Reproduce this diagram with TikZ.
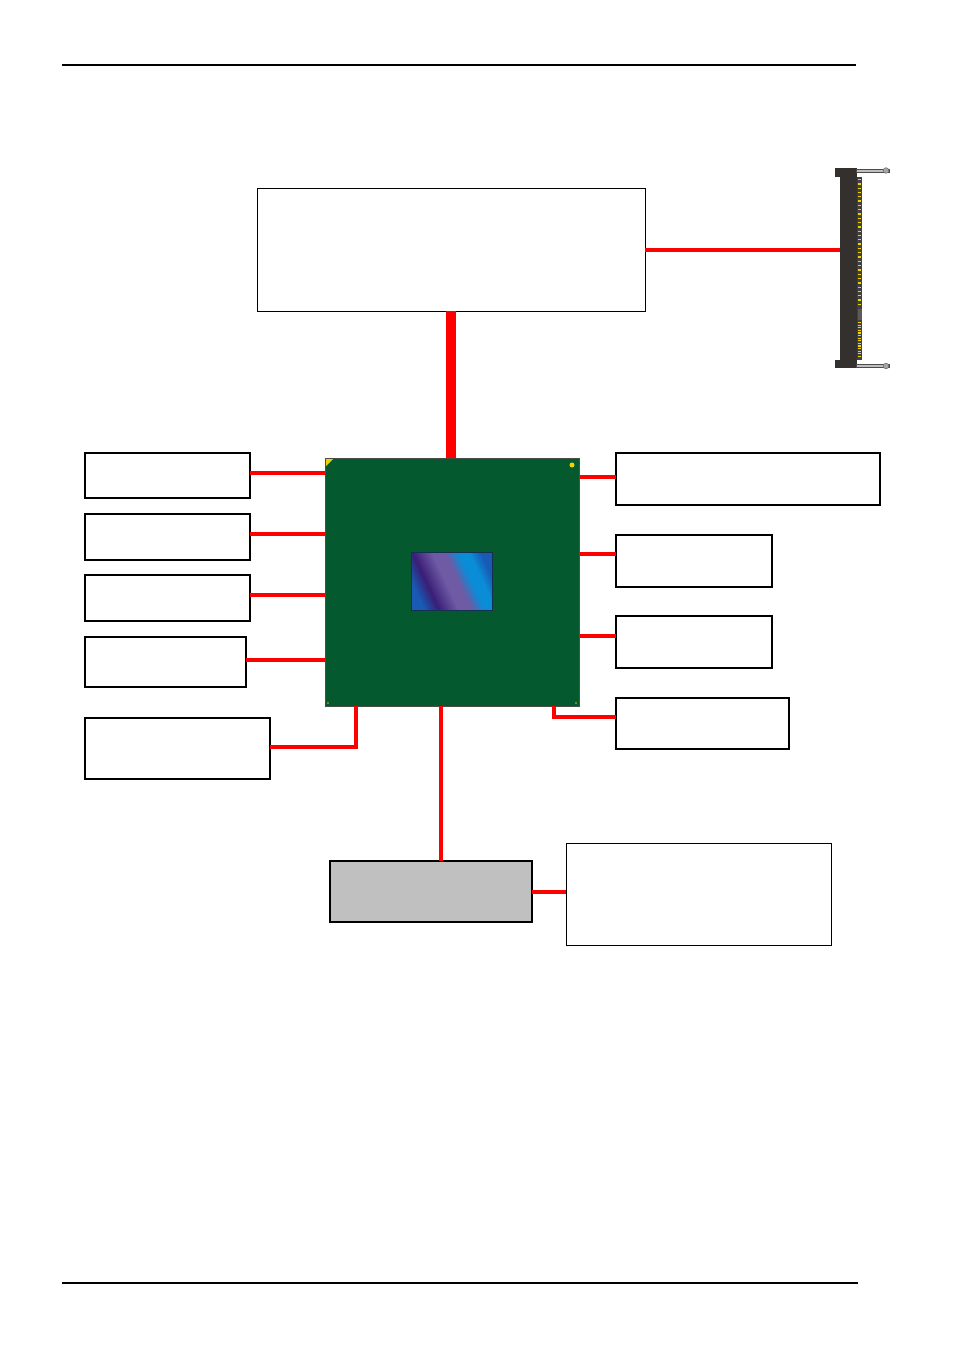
\documentclass[tikz,border=0pt]{standalone}
\usepackage{tikz}
\usetikzlibrary{positioning}
\definecolor{busred}{RGB}{255,0,0}
\definecolor{boardgreen}{RGB}{4,90,46}
\definecolor{boardedge}{RGB}{70,80,72}
\definecolor{slotgray}{RGB}{192,192,192}
\definecolor{slotdark}{RGB}{52,48,46}
\definecolor{slotstrip}{RGB}{66,64,62}
\definecolor{pinyellow}{RGB}{240,210,0}
\definecolor{dieblue}{RGB}{24,90,180}
\definecolor{diedark}{RGB}{58,30,118}
\definecolor{dielight}{RGB}{110,90,165}
\definecolor{diecyan}{RGB}{10,140,215}
\definecolor{dieedge}{RGB}{20,50,80}
\pgfdeclarehorizontalshading{diegrad}{100bp}{color(0bp)=(dieblue); color(25bp)=(dieblue); color(34bp)=(diedark); color(46bp)=(dielight); color(54bp)=(dielight); color(62bp)=(diecyan); color(69bp)=(diecyan); color(76bp)=(dieblue); color(100bp)=(dieblue)}

\begin{document}
\begin{tikzpicture}[x=1bp, y=-1bp,
        blk/.style={draw, line width=2bp, inner sep=0pt, outer sep=0pt},
        thinblk/.style={draw, line width=1bp, inner sep=0pt, outer sep=0pt},
        bus/.style={busred, line width=4bp},
        rule/.style={line width=2bp}]
        \useasboundingbox (0,0) rectangle (954,1352);
        % Page rules
        \draw[rule] (62,65) -- (856,65);
        \draw[rule] (62,1283) -- (858,1283);
        % Blocks
        \node[thinblk, minimum width=388bp, minimum height=122bp] (top) at (451,250) {};
        \node[blk, minimum width=165bp, minimum height=45bp] (lana) at (167.5,475.5) {};
        \node[blk, minimum width=165bp, minimum height=46bp] (lanb) at (167.5,537) {};
        \node[blk, minimum width=165bp, minimum height=46bp] (lanc) at (167.5,598) {};
        \node[blk, minimum width=161bp, minimum height=50bp] (land) at (165.5,662) {};
        \node[blk, minimum width=185bp, minimum height=61bp] (lane) at (177.5,748.5) {};
        \node[blk, minimum width=264bp, minimum height=52bp] (rana) at (748,479) {};
        \node[blk, minimum width=156bp, minimum height=52bp] (ranb) at (694,561) {};
        \node[blk, minimum width=156bp, minimum height=52bp] (ranc) at (694,642) {};
        \node[blk, minimum width=173bp, minimum height=51bp] (rand) at (702.5,723.5) {};
        \node[blk, line width=1.8bp, fill=slotgray, minimum width=202bp, minimum height=61bp] (sio) at (431,891.5) {};
        \node[thinblk, minimum width=265bp, minimum height=102bp] (bios) at (698.5,894) {};
        % Processor board
        \node[draw=boardedge, line width=1bp, fill=boardgreen, inner sep=0pt, outer sep=0pt,
              minimum width=254bp, minimum height=248bp] (chip) at (452,582) {};
        \node[shading=diegrad, shading angle=25, draw=dieedge, line width=1bp, inner sep=0pt,
              minimum width=81bp, minimum height=58bp] (die) at (451.5,581) {};
        \fill[pinyellow] (326,459) -- (333,459) -- (326,466) -- cycle;
        \fill[pinyellow] (572,465) circle (2.5);
        \fill[pinyellow!60!boardgreen] (328,703) circle (1.2);
        \fill[pinyellow!60!boardgreen] (576,703) circle (1.2);
        % Slot connector
        \node[fill=slotdark, inner sep=0pt, outer sep=0pt, minimum width=17bp, minimum height=200bp] (conn) at (848.5,268) {};
        \fill[slotdark] (835,168) rectangle (840,177);
        \fill[slotdark] (835,360) rectangle (840,368);
        \fill[slotstrip] (857,177) rectangle (862,360);
        \foreach \y in {179,183.3,...,305} \fill[pinyellow] (857.5,\y) rectangle (861,\y+1.3);
        \fill[slotdark!80!white] (857.5,309) rectangle (861.5,320);
        \foreach \y in {322,324.6,...,357} \fill[pinyellow] (857.5,\y) rectangle (861,\y+1.1);
        \foreach \y in {170.5,366} {
            \draw[black!70, fill=black!25, line width=0.5bp] (856,\y-1.5) rectangle (889,\y+1.5);
            \draw[black!60, fill=black!35, line width=0.5bp] (886,\y) circle (2.8);
        }
        % Buses
        \draw[bus] (top.east) -- (top.east -| conn.west);
        \draw[busred, line width=10bp] (top.south) -- (top.south |- chip.north);
        \draw[bus] ([yshift=2.5bp]lana.east) -- ([yshift=2.5bp]lana.east -| chip.west);
        \draw[bus] ([yshift=3bp]lanb.east) -- ([yshift=3bp]lanb.east -| chip.west);
        \draw[bus] ([yshift=3bp]lanc.east) -- ([yshift=3bp]lanc.east -| chip.west);
        \draw[bus] ([yshift=2bp]land.east) -- ([yshift=2bp]land.east -| chip.west);
        \draw[bus, line width=4.5bp] ([xshift=-96bp]chip.south) |- ([yshift=1.5bp]lane.east);
        \draw[bus, line width=4.5bp] ([xshift=-11bp]chip.south) -- ([xshift=-11bp]chip.south |- sio.north);
        \draw[bus] ([yshift=2bp]rana.west) -- ([yshift=2bp]rana.west -| chip.east);
        \draw[bus] ([yshift=7bp]ranb.west) -- ([yshift=7bp]ranb.west -| chip.east);
        \draw[bus] ([yshift=6bp]ranc.west) -- ([yshift=6bp]ranc.west -| chip.east);
        \draw[bus] ([xshift=102bp]chip.south) |- ([yshift=6.5bp]rand.west);
        \draw[bus] (sio.east) -- (sio.east -| bios.west);
\end{tikzpicture}
\end{document}
